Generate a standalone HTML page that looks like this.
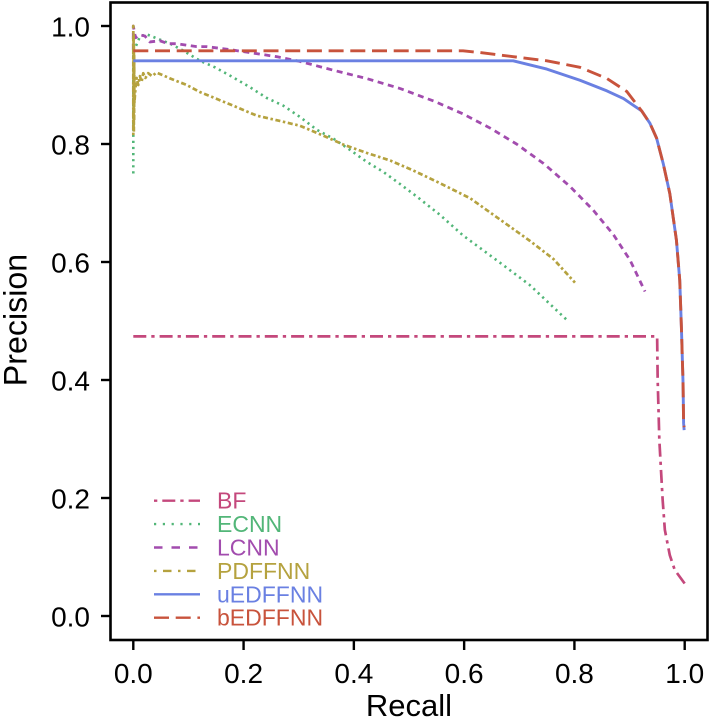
<!DOCTYPE html>
<html>
<head>
<meta charset="utf-8">
<style>
html,body{margin:0;padding:0;background:#fff;}
svg{display:block;font-family:"Liberation Sans",Arial,sans-serif;filter:blur(0.35px);}
</style>
</head>
<body>
<svg id="chart" width="709" height="726" viewBox="0 0 709 726" xmlns="http://www.w3.org/2000/svg"></svg>
<script>
const xTicks = [0, 0.2, 0.4, 0.6, 0.8, 1];
const yTicks = [0, 0.2, 0.4, 0.6, 0.8, 1];
const xTickLabels = ['0.0', '0.2', '0.4', '0.6', '0.8', '1.0'];
const yTickLabels = ['0.0', '0.2', '0.4', '0.6', '0.8', '1.0'];
const seriesNames = ['BF', 'ECNN', 'LCNN', 'PDFFNN', 'uEDFFNN', 'bEDFFNN'];

const bfRecall = [0, 0.95, 0.951, 0.954, 0.96, 0.964, 0.973, 0.982, 1];
const bfPrecision = [0.474, 0.474, 0.4, 0.298, 0.197, 0.146, 0.103, 0.078, 0.055];
const ecnnRecall = [0, 0, 0.003, 0.012, 0.024, 0.048, 0.067, 0.091, 0.121, 0.148, 0.181, 0.212, 0.242, 0.272, 0.302, 0.333, 0.363, 0.393, 0.423, 0.453, 0.484, 0.514, 0.556, 0.598, 0.659, 0.719, 0.786];
const ecnnPrecision = [0.75, 0.95, 0.962, 0.982, 0.986, 0.977, 0.97, 0.958, 0.941, 0.93, 0.913, 0.896, 0.878, 0.865, 0.846, 0.824, 0.809, 0.79, 0.77, 0.753, 0.732, 0.711, 0.68, 0.645, 0.603, 0.561, 0.502];
const lcnnRecall = [0, 0, 0.004, 0.012, 0.021, 0.03, 0.048, 0.063, 0.079, 0.115, 0.133, 0.175, 0.218, 0.26, 0.302, 0.363, 0.423, 0.484, 0.547, 0.598, 0.647, 0.695, 0.744, 0.792, 0.834, 0.871, 0.901, 0.928];
const lcnnPrecision = [0.96, 1, 0.98, 0.985, 0.983, 0.973, 0.975, 0.97, 0.97, 0.965, 0.965, 0.96, 0.954, 0.948, 0.94, 0.925, 0.911, 0.894, 0.872, 0.851, 0.827, 0.8, 0.767, 0.728, 0.688, 0.646, 0.603, 0.55];
const pdffnnRecall = [0, 0, 0.0005, 0.0005, 0.001, 0.001, 0.0015, 0.0015, 0.002, 0.004, 0.006, 0.009, 0.012, 0.015, 0.018, 0.022, 0.027, 0.034, 0.042, 0.055, 0.067, 0.097, 0.121, 0.142, 0.181, 0.224, 0.266, 0.302, 0.345, 0.381, 0.423, 0.466, 0.508, 0.553, 0.611, 0.665, 0.719, 0.762, 0.801];
const pdffnnPrecision = [0.815, 1, 0.83, 0.985, 0.82, 0.97, 0.84, 0.95, 0.87, 0.895, 0.912, 0.9, 0.915, 0.905, 0.92, 0.912, 0.92, 0.915, 0.921, 0.916, 0.911, 0.9, 0.888, 0.88, 0.865, 0.848, 0.839, 0.831, 0.814, 0.799, 0.785, 0.772, 0.755, 0.735, 0.708, 0.672, 0.636, 0.605, 0.565];
const uedffnnRecall = [0, 0.689, 0.75, 0.81, 0.859, 0.889, 0.922, 0.937, 0.949, 0.961, 0.973, 0.985, 0.991, 0.994, 0.997, 0.998, 0.999];
const uedffnnPrecision = [0.941, 0.941, 0.927, 0.908, 0.89, 0.877, 0.856, 0.835, 0.81, 0.767, 0.716, 0.637, 0.569, 0.49, 0.395, 0.327, 0.315];
const bedffnnRecall = [0, 0.598, 0.629, 0.689, 0.75, 0.81, 0.859, 0.895, 0.922, 0.937, 0.949, 0.961, 0.973, 0.985, 0.991, 0.994, 0.997, 0.998, 0.999];
const bedffnnPrecision = [0.958, 0.958, 0.955, 0.948, 0.941, 0.93, 0.911, 0.889, 0.856, 0.835, 0.81, 0.767, 0.716, 0.637, 0.569, 0.49, 0.395, 0.327, 0.32];

const NS = 'http://www.w3.org/2000/svg';
const svg = document.getElementById('chart');
const xScale = function (v) { return 133.3 + 551.4 * v; };
const yScale = function (v) { return 616 - 590 * v; };

function make(tag, attrs, parent) {
  const el = document.createElementNS(NS, tag);
  for (const k in attrs) el.setAttribute(k, attrs[k]);
  (parent || svg).appendChild(el);
  return el;
}

const seriesList = [
  { xs: bfRecall, ys: bfPrecision, color: '#c4487c', dash: '13 5 3.3 5', keyDash: '13 5 3.3 5', keyOffset: 18, width: 2.7 },
  { xs: ecnnRecall, ys: ecnnPrecision, color: '#52b678', dash: '2.2 3.9', keyDash: '2.2 6.6', keyOffset: 0, width: 2.6 },
  { xs: lcnnRecall, ys: lcnnPrecision, color: '#a24cae', dash: '6 4.6', keyDash: '8.5 9', keyOffset: 0, width: 2.8 },
  { xs: pdffnnRecall, ys: pdffnnPrecision, color: '#b5a23f', dash: '2.5 2.6 5 2.6', keyDash: '2.5 6.5 8.5 6.5', keyOffset: 0, width: 2.7 },
  { xs: uedffnnRecall, ys: uedffnnPrecision, color: '#6a80e2', dash: '', keyDash: '', keyOffset: 0, width: 2.9 },
  { xs: bedffnnRecall, ys: bedffnnPrecision, color: '#c8533c', dash: '15 6.7', keyDash: '15 6.7', keyOffset: 0, width: 2.9 }
];

seriesList.forEach(function (s, i) {
  const d = s.xs.map(function (x, j) {
    return (j ? 'L' : 'M') + xScale(x).toFixed(2) + ' ' + yScale(s.ys[j]).toFixed(2);
  }).join(' ');
  const line = make('path', { d: d, fill: 'none', stroke: s.color, 'stroke-width': s.width, 'stroke-dasharray': s.dash, 'stroke-linejoin': 'round' });
  
  
});

const frame = make('rect', { x: 110.5, y: 2.5, width: 597, height: 637.5, fill: 'none', stroke: '#000', 'stroke-width': 2.6 });



xTicks.forEach(function (v, i) {
  const tick = make('line', { x1: xScale(v), x2: xScale(v), y1: 640, y2: 650, stroke: '#000', 'stroke-width': 2.4 });
  
  
  const label = make('text', { x: xScale(v), y: 683, 'text-anchor': 'middle', 'font-size': 28, fill: '#000' });
  label.textContent = xTickLabels[i];
  
  
});

yTicks.forEach(function (v, i) {
  const tick = make('line', { x1: 101, x2: 110, y1: yScale(v), y2: yScale(v), stroke: '#000', 'stroke-width': 2.4 });
  
  
  const label = make('text', { x: 90, y: yScale(v) + 10.5, 'text-anchor': 'end', 'font-size': 28, fill: '#000' });
  label.textContent = yTickLabels[i];
  
  
});

const xTitle = make('text', { x: 409, y: 716, 'text-anchor': 'middle', 'font-size': 31, fill: '#000' });
xTitle.textContent = 'Recall';



const yTitle = make('text', { transform: 'translate(26.5 320) rotate(-90)', 'text-anchor': 'middle', 'font-size': 32.2, fill: '#000' });
yTitle.textContent = 'Precision';



seriesList.forEach(function (s, i) {
  const ly = 500.7 + i * 23.4;
  const key = make('line', { x1: 154, x2: 200, y1: ly, y2: ly, stroke: s.color, 'stroke-width': 2.4, 'stroke-dasharray': s.keyDash, 'stroke-dashoffset': s.keyOffset });
  
  
  const text = make('text', { x: 217, y: ly + 8, 'font-size': 23, fill: s.color });
  text.textContent = seriesNames[i];
  
  
});
</script>
</body>
</html>
